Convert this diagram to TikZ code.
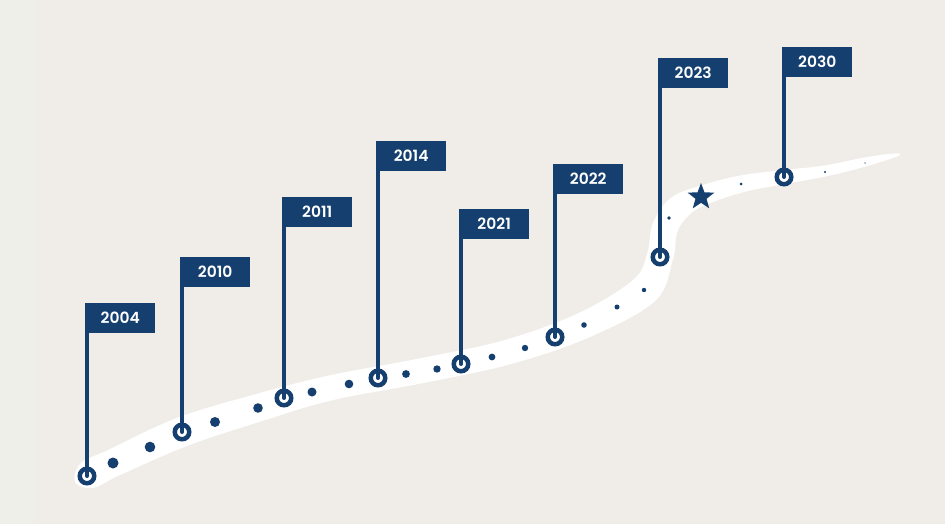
\documentclass[tikz,border=0pt]{standalone}
\usepackage{fontspec}
\setmainfont{Poppins}[BoldFont={Poppins SemiBold}]
\usetikzlibrary{shapes.geometric}
\definecolor{navy}{HTML}{153F6F}
\definecolor{paper}{HTML}{F0EDE9}
\definecolor{paperedge}{HTML}{EFEFEA}

\begin{document}
\begin{tikzpicture}[x=1pt, y=-1pt,
    flag/.style={fill=navy, text=white, font=\fontsize{15.5}{18}\selectfont\bfseries,
      minimum width=70pt, minimum height=30pt, inner sep=0pt, anchor=north west},
    ring/.style={circle, draw=navy, line width=4.5pt, fill=white,
      minimum size=14.5pt, inner sep=0pt},
    pole/.style={navy, line width=4pt, line cap=round}]
  % background
  \fill[paper] (0,0) rectangle (945,524);
  \fill[paperedge] (0,0) rectangle (35,524);

  % the road
  \fill[white] plot[smooth cycle, tension=0.6] coordinates {
    (75,482) (81,463) (107.6,450.2) (177,417.9) (253.7,394.7) (327.5,375.8)
    (418,358.7) (504.7,340) (578.6,313) (633,280) (647,254.3)
    (652.8,223.5) (670,198.5) (697.5,186.6) (739.1,175.7) (782.9,170.1)
    (824,165.6) (864,157.6) (894,153.5) (898,156)
    (866,166.4) (826,176.4) (785.1,183.9) (742.9,192.3) (704.5,205.4)
    (688,216) (677.2,232.5) (672.7,260) (655,301) (590,337)
    (511.3,364) (422,383.3) (332.5,400.2) (262.3,421) (187,446)
    (118.4,475.8) (93,488)};

  % dots along the road
  \foreach \x/\y/\r in {113/463/5.5, 150/447/5.3, 215/422/5, 258/408/4.8,
      312/392/4.5, 349/384/4.3, 406/374/3.9, 437/369/3.7, 492/357/3.4,
      525/348/3.2, 584/325/2.8, 617/307/2.5, 644/290/2.2, 669/218/1.8,
      741/184/1.5, 825/172/1.2}
    \fill[navy] (\x,\y) circle (\r pt);
  \fill[navy!45] (865,163) circle (1pt);

  % goal
  \node[star, star points=5, star point ratio=2.4, fill=navy, inner sep=0pt,
    minimum size=28pt] (goal) at (701,197) {};

  % flags
  \node[flag] (f2004) at (85,303) {2004};
  \node[flag] (f2010) at (180,257) {2010};
  \node[flag] (f2011) at (282,197) {2011};
  \node[flag] (f2014) at (376,141) {2014};
  \node[flag] (f2021) at (459,209) {2021};
  \node[flag] (f2022) at (553,164) {2022};
  \node[flag] (f2023) at (658,58) {2023};
  \node[flag] (f2030) at (782,47) {2030};

  \node[ring] (m2004) at (87,476) {};
  \node[ring] (m2010) at (182,432) {};
  \node[ring] (m2011) at (284,398) {};
  \node[ring] (m2014) at (378,378) {};
  \node[ring] (m2021) at (461,364) {};
  \node[ring] (m2022) at (555,337) {};
  \node[ring] (m2023) at (660,257) {};
  \node[ring] (m2030) at (784,177) {};

  \draw[pole] (m2004.center) -- (m2004.center |- f2004.south);
  \draw[pole] (m2010.center) -- (m2010.center |- f2010.south);
  \draw[pole] (m2011.center) -- (m2011.center |- f2011.south);
  \draw[pole] (m2014.center) -- (m2014.center |- f2014.south);
  \draw[pole] (m2021.center) -- (m2021.center |- f2021.south);
  \draw[pole] (m2022.center) -- (m2022.center |- f2022.south);
  \draw[pole] (m2023.center) -- (m2023.center |- f2023.south);
  \draw[pole] (m2030.center) -- (m2030.center |- f2030.south);
\end{tikzpicture}
\end{document}
